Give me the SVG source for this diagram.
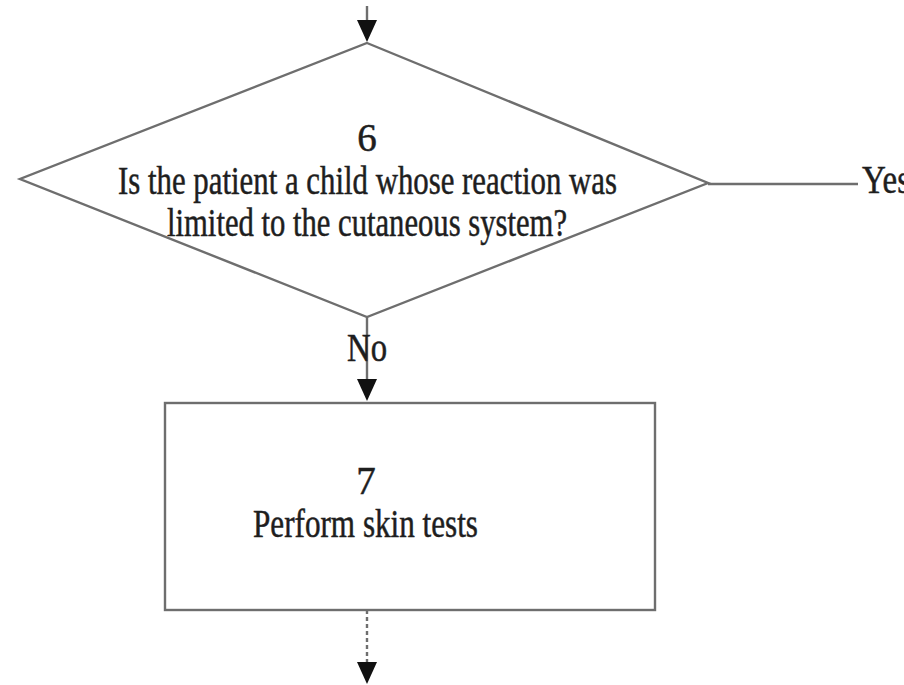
<svg xmlns="http://www.w3.org/2000/svg" width="904" height="685" viewBox="0 0 904 685">
  <style>
    .shape { fill: none; stroke: #6e6e6e; stroke-width: 2.4; }
    .wire { fill: none; stroke: #6e6e6e; stroke-width: 2.4; }
    .lbl { font-family: "Liberation Serif", "Times New Roman", serif; font-size: 39px; fill: #1e1e1e; stroke: #1e1e1e; stroke-width: 0.5; text-anchor: middle; }
    .edge-lbl { font-family: "Liberation Serif", "Times New Roman", serif; font-size: 39px; fill: #1e1e1e; stroke: #1e1e1e; stroke-width: 0.5; }
  </style>
  <defs>
    <!-- downward arrowhead, tip at the origin -->
    <path id="tri" d="M-10,-22 L10,-22 L0,0 Z" fill="#111"/>
  </defs>

  <rect width="904" height="685" fill="#ffffff"/>

  <!-- connectors -->
  <g id="connectors">
    <line class="wire" x1="367" y1="6" x2="367" y2="30"/>
    <use href="#tri" x="367" y="42"/>
    <line class="wire" x1="708" y1="184" x2="858" y2="184"/>
    <line class="wire" x1="367" y1="317" x2="367" y2="388"/>
    <use href="#tri" x="367" y="401"/>
    <line class="wire" x1="367" y1="610" x2="367" y2="670" stroke-dasharray="4 3"/>
    <use href="#tri" x="367" y="684"/>
    <text class="edge-lbl" x="862" y="193" textLength="48" lengthAdjust="spacingAndGlyphs">Yes</text>
    <text class="lbl" x="367" y="361" textLength="40" lengthAdjust="spacingAndGlyphs">No</text>
  </g>

  <!-- decision 6 -->
  <g id="node-6">
    <polygon class="shape" points="367,43 708,183 367,317 20,179"/>
    <text class="lbl" x="367" y="151">6</text>
    <text class="lbl" x="367.5" y="194" textLength="499" lengthAdjust="spacingAndGlyphs">Is the patient a child whose reaction was</text>
    <text class="lbl" x="367" y="236" textLength="400" lengthAdjust="spacingAndGlyphs">limited to the cutaneous system?</text>
  </g>

  <!-- process 7 -->
  <g id="node-7">
    <rect class="shape" x="165" y="403" width="490" height="207"/>
    <text class="lbl" x="366" y="494">7</text>
    <text class="lbl" x="365.5" y="537" textLength="225" lengthAdjust="spacingAndGlyphs">Perform skin tests</text>
  </g>
</svg>
